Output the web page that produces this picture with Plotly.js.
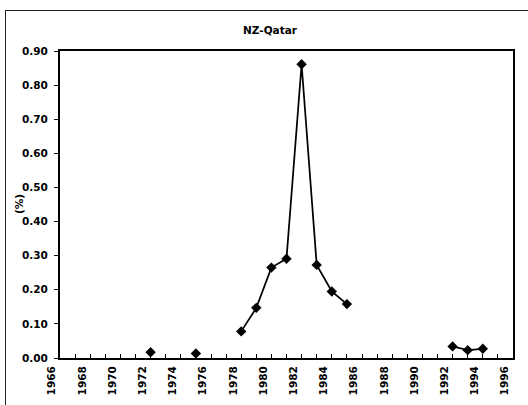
<!DOCTYPE html>
<html>
<head>
<meta charset="utf-8">
<script src="https://cdn.plot.ly/plotly-3.0.1.min.js"></script>
<style>
  html, body { margin: 0; padding: 0; background: #ffffff; overflow: hidden; }
  #wrap { position: relative; width: 528px; height: 405px; overflow: hidden; }
  #frame { position: absolute; left: 5px; top: 10px; width: 560px; height: 440px;
           border-left: 1px solid #222; border-top: 1px solid #222; }
  #chart { position: absolute; left: 0; top: 0; width: 528px; height: 405px; }
</style>
</head>
<body>
<div id="wrap">
  <div id="frame"></div>
  <div id="chart"></div>
</div>
<script>
const chartTitle = 'NZ-Qatar';
const yTitle = '(%)';
const years = [1966, 1967, 1968, 1969, 1970, 1971, 1972, 1973, 1974, 1975,
               1976, 1977, 1978, 1979, 1980, 1981, 1982, 1983, 1984, 1985,
               1986, 1987, 1988, 1989, 1990, 1991, 1992, 1993, 1994, 1995, 1996];
const share = [null, null, null, null, null, null, 0.017, null, null, 0.013,
               null, null, 0.078, 0.147, 0.265, 0.291, 0.861, 0.273, 0.195, 0.158,
               null, null, null, null, null, null, 0.034, 0.023, 0.027, null, null];
const xTickVals = [1966, 1968, 1970, 1972, 1974, 1976, 1978, 1980, 1982, 1984,
                   1986, 1988, 1990, 1992, 1994, 1996];
const yTickVals = [0, 0.1, 0.2, 0.3, 0.4, 0.5, 0.6, 0.7, 0.8, 0.9];

const font = { family: 'DejaVu Sans, Arial, sans-serif', size: 10.5, color: '#000', weight: 'bold' };

const trace = {
  x: years,
  y: share,
  type: 'scatter',
  mode: 'lines+markers',
  connectgaps: false,
  line: { color: '#000', width: 1.75 },
  marker: { symbol: 'diamond', size: 8, color: '#000', line: { width: 0 } },
  showlegend: false,
  hoverinfo: 'x+y'
};

const layout = {
  width: 528,
  height: 405,
  margin: { l: 60, r: 15, t: 50.5, b: 46.5 },
  paper_bgcolor: 'rgba(0,0,0,0)',
  plot_bgcolor: 'rgba(0,0,0,0)',
  font: font,
  title: {
    text: chartTitle,
    font: font,
    x: 270 / 528, xref: 'container', xanchor: 'center',
    y: 1 - 30.5 / 405, yref: 'container', yanchor: 'middle'
  },
  xaxis: {
    range: [1966, 1996],
    tickmode: 'array',
    tickvals: xTickVals,
    ticktext: xTickVals.map(String),
    tickangle: -90,
    ticks: 'inside',
    ticklen: 4,
    tickwidth: 1,
    tickcolor: '#000',
    minor: { dtick: 1, tick0: 1966, ticks: 'inside', ticklen: 4, tickwidth: 1, tickcolor: '#000' },
    ticklabelshift: -8,
    ticklabelstandoff: 2,
    showline: true, linecolor: '#000', linewidth: 2, mirror: true,
    showgrid: false, zeroline: false,
    tickfont: font
  },
  yaxis: {
    range: [0, 0.9],
    tickmode: 'array',
    tickvals: yTickVals,
    ticktext: yTickVals.map(v => v.toFixed(2)),
    ticks: 'outside',
    ticklen: 4,
    tickwidth: 1,
    tickcolor: '#000',
    ticklabelstandoff: 4,
    showline: true, linecolor: '#000', linewidth: 2, mirror: true,
    showgrid: false, zeroline: false,
    tickfont: font
  },
  annotations: [{
    text: yTitle,
    xref: 'paper', yref: 'paper',
    x: (18.5 - 60) / 453, y: 0.5,
    xanchor: 'center', yanchor: 'middle',
    textangle: -90,
    showarrow: false,
    font: font
  }]
};

Plotly.newPlot('chart', [trace], layout, { displayModeBar: false, staticPlot: true });
</script>
</body>
</html>
